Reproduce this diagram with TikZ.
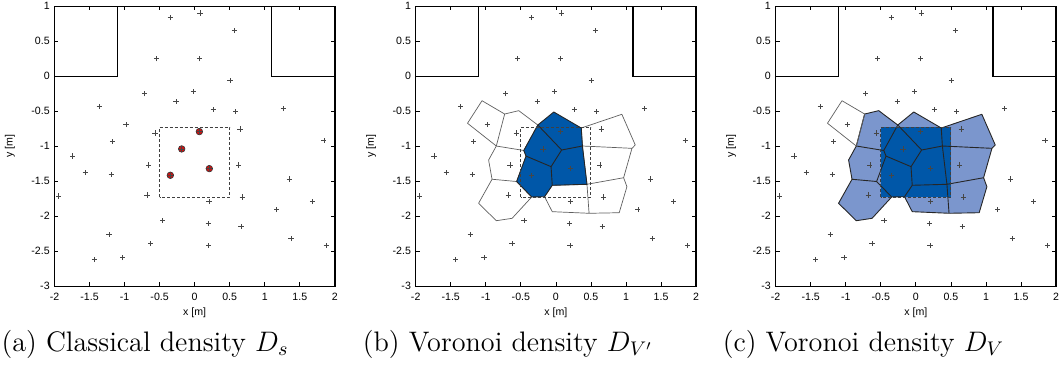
\documentclass[tikz,border=0pt]{standalone}
\usepackage{fix-cm}
\usepackage{fontspec}
\newfontfamily\plotfont{Liberation Sans}
\usetikzlibrary{positioning}
\definecolor{deepblue}{RGB}{0,87,168}
\definecolor{paleblue}{RGB}{123,150,205}
\definecolor{dotred}{RGB}{204,18,18}
\definecolor{markgray}{RGB}{70,70,70}
\definecolor{cellgray}{RGB}{95,95,95}
\tikzset{
  frameline/.style={line width=0.65pt},
  obstline/.style={line width=0.55pt},
  tickline/.style={line width=0.4pt},
  ticklab/.style={font=\plotfont\fontsize{5.3}{6}\selectfont,inner sep=0pt},
  caplab/.style={font=\fontsize{14.1}{17}\selectfont,inner sep=0pt,anchor=base west},
  crossmk/.style={markgray,line width=0.35pt},
  reddot/.style={fill=dotred,draw=black!80,line width=0.3pt},
  sqbox/.style={black!75,line width=0.5pt,dash pattern=on 1.5pt off 1pt},
  cellout/.style={cellgray,line width=0.35pt,line join=round},
  celledge/.style={draw=black!85,line width=0.45pt,line join=round}
}
\newcommand{\sitelist}{-0.35/0.84,0.076/0.905,0.565/0.652,-0.546/0.252,0.067/0.252,0.504/-0.057,-0.717/-0.248,-0.019/-0.214,-0.266/-0.357,0.266/-0.471,0.584/-0.505,-1.363/-0.433,1.264/-0.462,-0.979/-0.69,-0.565/-0.81,0.646/-0.752,-1.173/-0.929,1.843/-0.914,-1.739/-1.138,-0.656/-1.267,0.627/-1.267,-1.563/-1.376,-1.192/-1.4,1.349/-1.467,-1.943/-1.71,-0.679/-1.695,0.679/-1.724,0.204/-1.79,1.682/-1.79,1.169/-1.905,-0.456/-2.057,0.195/-2.105,0.66/-2.143,-1.221/-2.257,1.373/-2.319,-0.627/-2.39,0.2/-2.414,1.876/-2.419,-1.43/-2.619,-1.026/-2.59}
\newcommand{\redlist}{0.067/-0.79,-0.185/-1.038,0.209/-1.319,-0.347/-1.414}
\newcommand{\crosses}[1]{\foreach \x/\y in #1 {\draw[crossmk] (\x,\y) +(-1.3pt,0) -- +(1.3pt,0) +(0,-1.3pt) -- +(0,1.3pt);}}
\newcommand{\cellcorners}{\foreach \n/\x/\y in {V1/-1.054/-0.349,V2/-0.731/-0.539,V3/-0.850/-0.996,V4/-1.261/-0.671,V5/-0.530/-0.491,vE/-0.258/-0.696,vG/-0.458/-1.06,vH/-0.426/-1.14,vD/0.082/-1.053,vA/-0.030/-0.510,vB/0.362/-0.739,vC/0.378/-0.996,vI/-0.069/-1.291,vJ/-0.052/-1.557,vK/0.443/-1.543,vL/-0.162/-1.720,vM/-0.345/-1.724,vN/-0.560/-1.503,vO/-0.911/-1.471,vP/-0.960/-1.196,vQ/-0.625/-2.029,vR/-0.850/-2.063,vS/-1.103/-1.814,vT/0.473/-1.957,vU/-0.052/-1.934,X1/0.941/-0.543,X2/1.132/-0.981,X3/1.085/-1.029,X4/0.966/-1.449,X5/1.013/-1.577,X6/0.903/-1.949}{\coordinate (\n) at (\x,\y);}}
\newcommand{\farcell}{(V1)--(V2)--(V3)--(V4)--cycle}
\newcommand{\outercells}{(V2)--(V5)--(vE)--(vG)--(V3)--cycle (V3)--(vG)--(vH)--(vN)--(vO)--(vP)--cycle (vO)--(vN)--(vM)--(vQ)--(vR)--(vS)--cycle (vL)--(vJ)--(vK)--(vT)--(vU)--cycle (vB)--(X1)--(X2)--(X3)--(vC)--cycle (vC)--(X3)--(X4)--(vK)--cycle (vK)--(X4)--(X5)--(X6)--(vT)--cycle}
\newcommand{\innercells}{(vE)--(vA)--(vB)--(vC)--(vD)--cycle (vE)--(vD)--(vI)--(vH)--(vG)--cycle (vD)--(vC)--(vK)--(vJ)--(vI)--cycle (vH)--(vI)--(vJ)--(vL)--(vM)--(vN)--cycle}
\newcommand{\plotbase}[1]{%
  \draw[obstline] (-2,0) -- (-1.1,0) -- (-1.1,1) (2,0) -- (1.1,0) -- (1.1,1);
  \foreach \t [count=\i] in {-2,-1.5,-1,-0.5,0,0.5,1,1.5,2}{
    \draw[tickline] (\t,-3) -- ++(0,2pt) (\t,1) -- ++(0,-2pt);
    \node[ticklab,yshift=-5.3pt] (xt#1\i) at (\t,-3) {\t};}
  \foreach \t [count=\i] in {-3,-2.5,-2,-1.5,-1,-0.5,0,0.5,1}{
    \draw[tickline] (-2,\t) -- ++(2pt,0) (2,\t) -- ++(-2pt,0);
    \node[ticklab,anchor=east,xshift=-2.2pt] (yt#1\i) at (-2,\t) {\t};}
  \node[ticklab] (xl#1) at (0,-3.381) {x [m]};
  \node[ticklab,rotate=90] (yl#1) at (-2.635,-1) {y [m]};
}

\begin{document}
\begin{tikzpicture}[x=35.05pt,y=35pt]
\useasboundingbox (-2.777,-4.224) rectangle (12.344,1.09);
% (a) classical density
\plotbase{a}
\crosses{\sitelist}
\draw[sqbox] (-0.5,-1.73) rectangle (0.5,-0.73);
\foreach \x/\y in \redlist {\draw[reddot] (\x,\y) circle (1.65pt);}
\crosses{\redlist}
\draw[frameline] (-2,-3) rectangle (2,1);
\node[caplab] (capa) at (-2.76,-3.934) {(a) Classical density $D_s$};
% (b) Voronoi density D_V'
\begin{scope}[shift={(5.153,0)}]
\plotbase{b}\cellcorners
\draw[cellout] \farcell \outercells;
\path[celledge,fill=deepblue] \innercells;
\crosses{\sitelist}\crosses{\redlist}
\draw[sqbox] (-0.5,-1.73) rectangle (0.5,-0.73);
\draw[frameline] (-2,-3) rectangle (2,1);
\node[caplab] (capb) at (-2.76,-3.934) {(b) Voronoi density $D_{V'}$};
\end{scope}
% (c) Voronoi density D_V
\begin{scope}[shift={(10.288,0)}]
\plotbase{c}\cellcorners
\fill[paleblue] \outercells \innercells;
\fill[deepblue] (-0.5,-1.73) rectangle (0.5,-0.73);
\path[celledge] \outercells \innercells;
\draw[cellout] \farcell;
\crosses{\sitelist}\crosses{\redlist}
\draw[sqbox] (-0.5,-1.73) rectangle (0.5,-0.73);
\draw[frameline] (-2,-3) rectangle (2,1);
\node[caplab] (capc) at (-2.76,-3.934) {(c) Voronoi density $D_V$};
\end{scope}
\end{tikzpicture}
\end{document}
